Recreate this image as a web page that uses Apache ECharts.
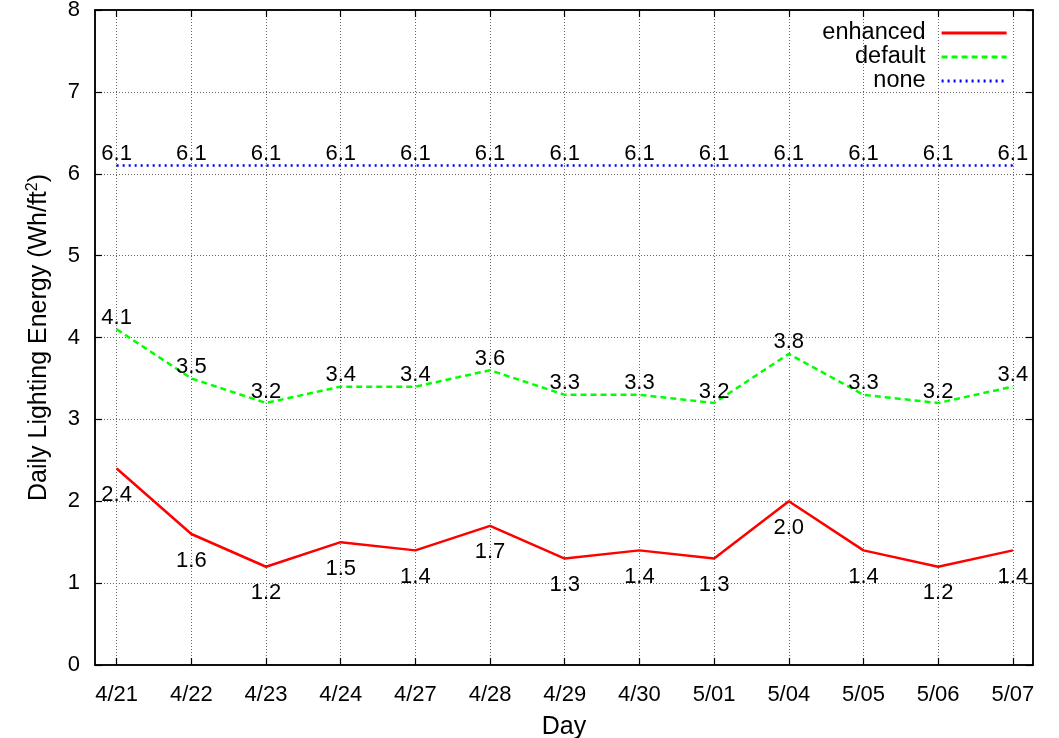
<!DOCTYPE html>
<html>
<head>
<meta charset="utf-8">
<script src="https://cdn.jsdelivr.net/npm/echarts@6/dist/echarts.min.js"></script>
<style>html,body{margin:0;padding:0;background:#fff;}#c{width:1059px;height:738px;}</style>
</head>
<body>
<div id="c"></div>
<script>
const days = ['4/21','4/22','4/23','4/24','4/27','4/28','4/29','4/30','5/01','5/04','5/05','5/06','5/07'];
const enhanced = [2.4,1.6,1.2,1.5,1.4,1.7,1.3,1.4,1.3,2.0,1.4,1.2,1.4];
const defaultVals = [4.1,3.5,3.2,3.4,3.4,3.6,3.3,3.3,3.2,3.8,3.3,3.2,3.4];
const noneVals = [6.1,6.1,6.1,6.1,6.1,6.1,6.1,6.1,6.1,6.1,6.1,6.1,6.1];

const FONT = 'Liberation Sans';
const idx = days.map((d,i)=>i);
const toPts = arr => arr.map((v,i)=>[i,v]);

const chart = echarts.init(document.getElementById('c'), null, {renderer:'canvas'});
const xCommon = {type:'value', min:-0.29, max:12.27, gridIndex:0};
const lbl = (pos, dist) => ({show:true,position:pos,distance:dist,fontFamily:FONT,fontSize:22,color:'#000',formatter:p=>p.value[1].toFixed(1)});
chart.setOption({
  animation:false,
  textStyle:{fontFamily:FONT},
  grid:{left:95,right:26,top:10,bottom:73,outerBoundsMode:'none',containLabel:false,show:true,borderColor:'#000',borderWidth:1.5,backgroundColor:'transparent'},
  legend:{
    orient:'vertical', right:46, top:16, align:'right', itemWidth:65, itemHeight:14, itemGap:0,
    itemStyle:{opacity:0,borderWidth:0},
    lineStyle:{width:2.8},
    textStyle:{fontFamily:FONT, fontSize:23.5, lineHeight:24, color:'#000', padding:[0,11,0,0]},
    data:['enhanced','default','none']
  },
  xAxis:[
    Object.assign({}, xCommon, {
      position:'bottom',
      name:'Day', nameLocation:'middle', nameGap:50,
      nameTextStyle:{fontFamily:FONT,fontSize:25,color:'#000'},
      axisLine:{show:true,onZero:false,lineStyle:{color:'#000',width:1.5}},
      axisTick:{show:true,inside:true,length:7,customValues:idx,lineStyle:{color:'#000',width:1.2}},
      axisLabel:{show:true,customValues:idx,formatter:v=>days[Math.round(v)],fontFamily:FONT,fontSize:22,color:'#000',margin:19},
      splitLine:{show:true,lineStyle:{color:'#666',width:1,type:[1,2]}}
    }),
    Object.assign({}, xCommon, {
      position:'top',
      axisLine:{show:true,onZero:false,lineStyle:{color:'#000',width:1.5}},
      axisTick:{show:true,inside:true,length:7,customValues:idx,lineStyle:{color:'#000',width:1.2}},
      axisLabel:{show:false},
      splitLine:{show:false}
    })
  ],
  yAxis:[
    {
      type:'value', min:0, max:8, interval:1, position:'left',
      name:'Daily Lighting Energy (Wh/ft{sup|2})', nameLocation:'middle', nameGap:42,
      nameTextStyle:{fontFamily:FONT,fontSize:25,color:'#000',rich:{sup:{fontFamily:FONT,fontSize:16,color:'#000',verticalAlign:'top',padding:[0,0,12,0]}}},
      axisLine:{show:true,onZero:false,lineStyle:{color:'#000',width:1.5}},
      axisTick:{show:true,inside:true,length:7,lineStyle:{color:'#000',width:1.2}},
      axisLabel:{fontFamily:FONT,fontSize:22,color:'#000',margin:15,formatter:v=>String(v)},
      splitLine:{show:true,lineStyle:{color:'#666',width:1,type:[1,2]}}
    },
    {
      type:'value', min:0, max:8, interval:1, position:'right',
      axisLine:{show:true,onZero:false,lineStyle:{color:'#000',width:1.5}},
      axisTick:{show:true,inside:true,length:7,lineStyle:{color:'#000',width:1.2}},
      axisLabel:{show:false}, splitLine:{show:false}
    }
  ],
  series:[
    {
      name:'enhanced', type:'line', data:toPts(enhanced), symbol:'circle', symbolSize:1, showSymbol:true,
      color:'#ff0000', itemStyle:{color:'#ff0000'},
      lineStyle:{color:'#ff0000',width:2.5,type:'solid'},
      label:lbl('bottom',15), z:5
    },
    {
      name:'default', type:'line', data:toPts(defaultVals), symbol:'circle', symbolSize:1, showSymbol:true,
      color:'#00ff00', itemStyle:{color:'#00ff00'},
      lineStyle:{color:'#00ff00',width:2.5,type:[6,4]},
      label:lbl('top',0), z:4
    },
    {
      name:'none', type:'line', data:toPts(noneVals), symbol:'circle', symbolSize:1, showSymbol:true,
      color:'#0000ff', itemStyle:{color:'#0000ff'},
      lineStyle:{color:'#0000ff',width:2.5,type:[2,4]},
      label:lbl('top',0), z:3
    }
  ]
});
</script>
</body>
</html>
